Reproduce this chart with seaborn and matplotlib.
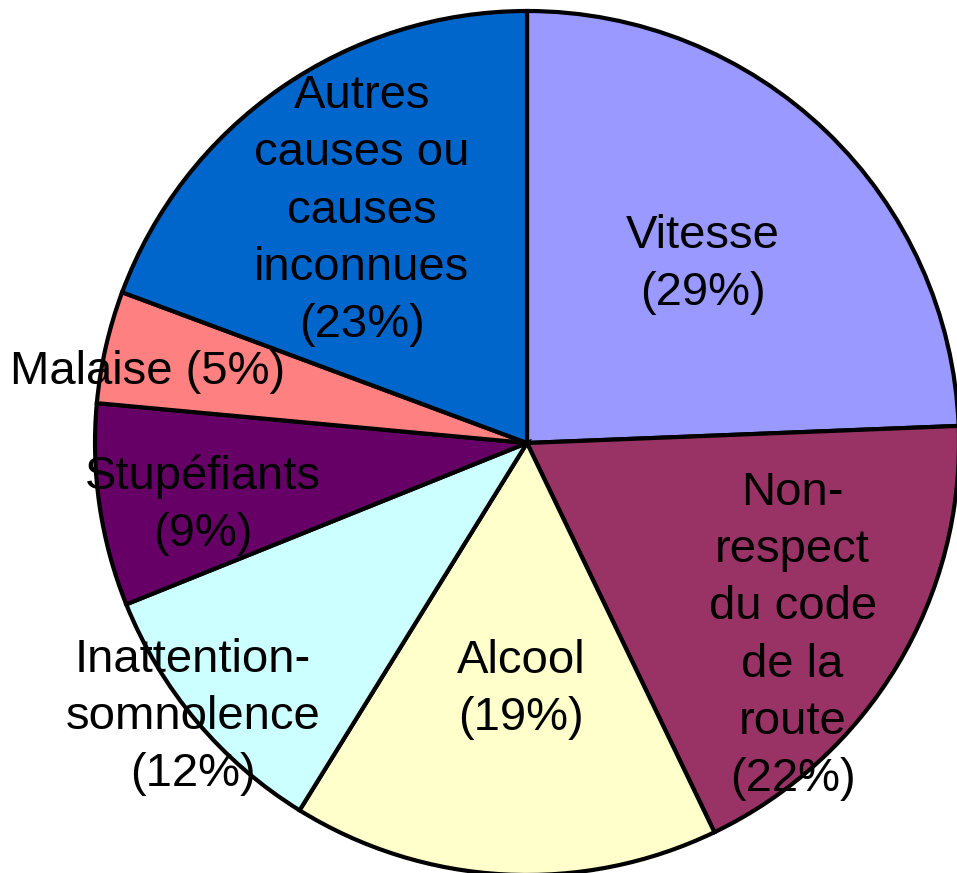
import numpy as np
import matplotlib
matplotlib.use("Agg")
import matplotlib.pyplot as plt
import seaborn as sns

# causes des accidents mortels (%)
causes = ["Vitesse", "Non-\nrespect\ndu code\nde la\nroute", "Alcool",
          "Inattention-\nsomnolence", "Stupéfiants", "Malaise",
          "Autres\ncauses ou\ncauses\ninconnues"]
pourcentages = [29, 22, 19, 12, 9, 5, 23]
couleurs = ["#9999FF", "#993366", "#FFFFCC", "#CCFFFF", "#660066", "#FF8080", "#0066CC"]

# placement des etiquettes (distance au centre, decalage angulaire en degres)
dist_etiquettes = [0.58, 0.76, 0.57, 1.0, 0.765, 0.893, 0.66]
decalage_angle = [-0.6, -5.0, 1.6, -0.7, 2.5, 2.3, 0.6]

sns.set_style("white")
plt.rcParams["font.family"] = ["Liberation Sans", "DejaVu Sans"]

fig = plt.figure(figsize=(9.57, 8.73), dpi=100)
ax = fig.add_axes([95 / 957, -2 / 873, 864 / 957, 864 / 873])

wedges, _ = ax.pie(
    pourcentages,
    colors=sns.color_palette(couleurs),
    startangle=90,
    counterclock=False,
    radius=1,
    wedgeprops=dict(edgecolor="black", linewidth=3),
)
ax.set_xlim(-1, 1)
ax.set_ylim(-1, 1)
ax.set_aspect("equal")
ax.axis("off")

for w, nom, v, d, da in zip(wedges, causes, pourcentages, dist_etiquettes, decalage_angle):
    sep = " " if nom == "Malaise" else "\n"
    angle = np.deg2rad((w.theta1 + w.theta2) / 2 + da)
    ax.text(d * np.cos(angle), d * np.sin(angle), f"{nom}{sep}({v}%)",
            ha="center", va="center", multialignment="center",
            fontsize=34, linespacing=1.39, color="black")

plt.savefig("out.png", dpi=100)
plt.close()
